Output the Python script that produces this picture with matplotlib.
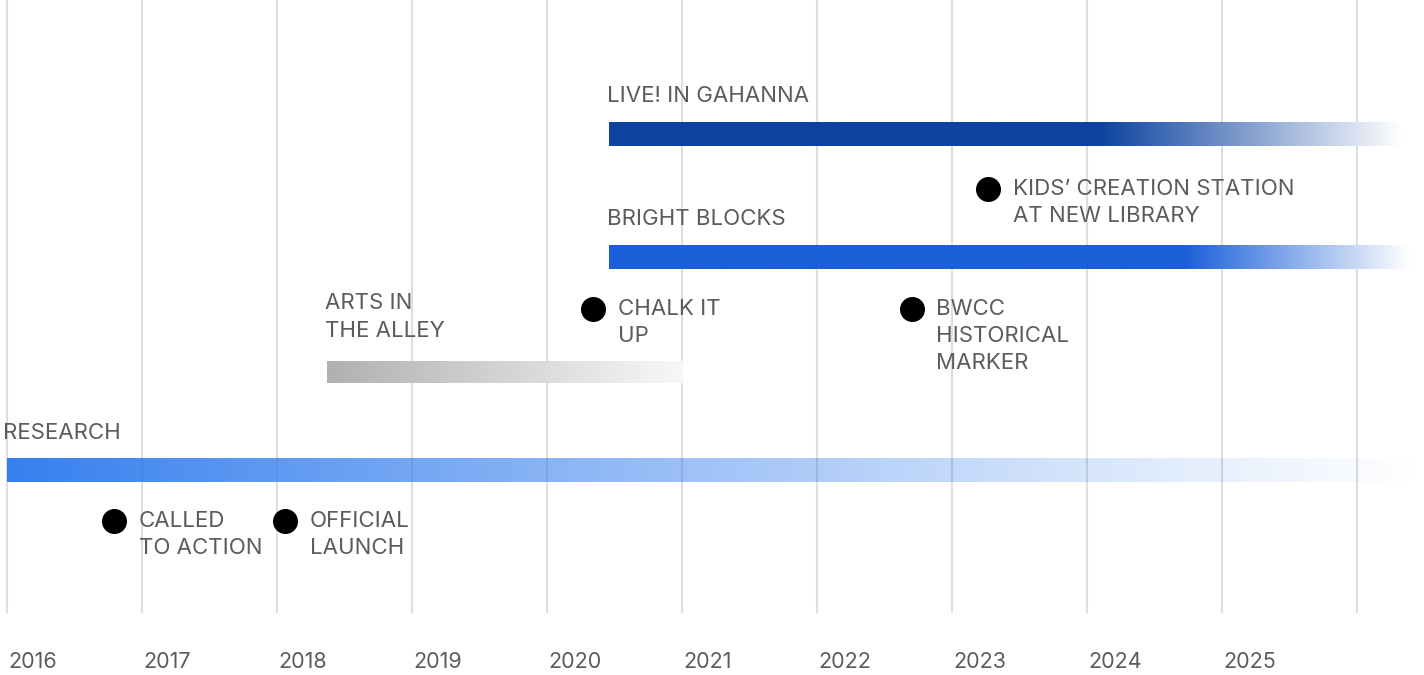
"""
Timeline of arts programs, recreated with matplotlib.
"""

import matplotlib.pyplot as plt
import numpy as np
from matplotlib.colors import to_rgb

plt.rcParams['font.family'] = ['Inter', 'DejaVu Sans']

# Years shown along the bottom
years = [2016, 2017, 2018, 2019, 2020, 2021, 2022, 2023, 2024, 2025]
grid_years = list(range(2016, 2027))

# Programs (bars): name, start year, end year, year where the fade begins
bar_names = ['LIVE! IN GAHANNA', 'BRIGHT BLOCKS', 'ARTS IN\nTHE ALLEY', 'RESEARCH']
bar_start = [2020.46, 2020.46, 2018.37, 2016.0]
bar_end = [2026.34, 2026.40, 2021.0, 2026.50]
bar_fade = [2024.10, 2024.72, 2018.37, 2016.0]

# Milestones (dots)
event_names = ['CALLED\nTO ACTION', 'OFFICIAL\nLAUNCH', 'CHALK IT\nUP',
               'BWCC\nHISTORICAL\nMARKER', 'KIDS\u2019 CREATION STATION\nAT NEW LIBRARY']
event_years = [2016.79, 2018.06, 2020.34, 2022.70, 2023.27]

# Layout (vertical positions in pixel rows, top = 0)
bar_rows = [134, 257, 372, 470]
bar_heights = [24, 24, 22, 24]
bar_label_rows = [96, 219, 317, 433]
bar_colors = ['#0d43a0', '#1a5fd8', '#b0b0b0', '#2f7bee']
bar_translucent = [False, False, False, True]
event_rows = [521, 521, 309, 309, 189]

TEXT = '#5c5c5c'
PX = 135.0  # pixels per year


def gradient_bar(ax, x0, x1, xf, yc, h, color, translucent):
    n = 400
    xs = np.linspace(x0, x1, n)
    rgb = np.array(to_rgb(color))
    t = np.clip((xs - xf) / max(x1 - xf, 1e-6), 0, 1)
    img = np.zeros((1, n, 4))
    if translucent:
        img[0, :, :3] = rgb
        img[0, :, 3] = 0.97 * (1 - t) ** 1.1
    elif color == '#b0b0b0':
        end = np.array(to_rgb('#f8f8f8'))
        img[0, :, :3] = rgb[None, :] * (1 - t[:, None]) + end[None, :] * t[:, None]
        img[0, :, 3] = 1
    else:
        img[0, :, :3] = rgb[None, :] * (1 - t[:, None]) + t[:, None]
        img[0, :, 3] = 1
    ax.imshow(img, extent=(x0, x1, yc + h / 2, yc - h / 2), aspect='auto',
              interpolation='bilinear', zorder=3)


fig = plt.figure(figsize=(14.24, 6.75), dpi=100)
ax = fig.add_axes([0, 0, 1, 1])
ax.set_xlim(2016 - 7 / PX, 2016 + 1417 / PX)
ax.set_ylim(675, 0)
ax.axis('off')

# Vertical year gridlines
for yr in grid_years:
    ax.plot([yr, yr], [0, 613], color='#dedede', linewidth=1.5, zorder=1,
            solid_capstyle='butt')

# Year labels
for yr in years:
    ax.text(yr + 1 / PX, 662, str(yr), fontsize=15.5, color=TEXT,
            ha='left', va='center')

# Program bars and their labels
for name, x0, x1, xf, yc, h, c, tr, ly in zip(bar_names, bar_start, bar_end, bar_fade,
                                              bar_rows, bar_heights, bar_colors,
                                              bar_translucent, bar_label_rows):
    gradient_bar(ax, x0, x1, xf, yc, h, c, tr)
    lx = x0 - 2 / PX if x0 > 2016 else 2016 - 4 / PX
    ax.text(lx, ly, name, fontsize=16, color=TEXT, ha='left', va='center',
            linespacing=1.45)

# Milestone dots and labels
for name, x, yc in zip(event_names, event_years, event_rows):
    ax.plot(x, yc, 'o', color='black', markersize=17, zorder=4)
    ax.text(x + 25 / PX, yc - 10, name, fontsize=16, color=TEXT,
            ha='left', va='top', linespacing=1.45)

fig.savefig('out.png', dpi=100)
